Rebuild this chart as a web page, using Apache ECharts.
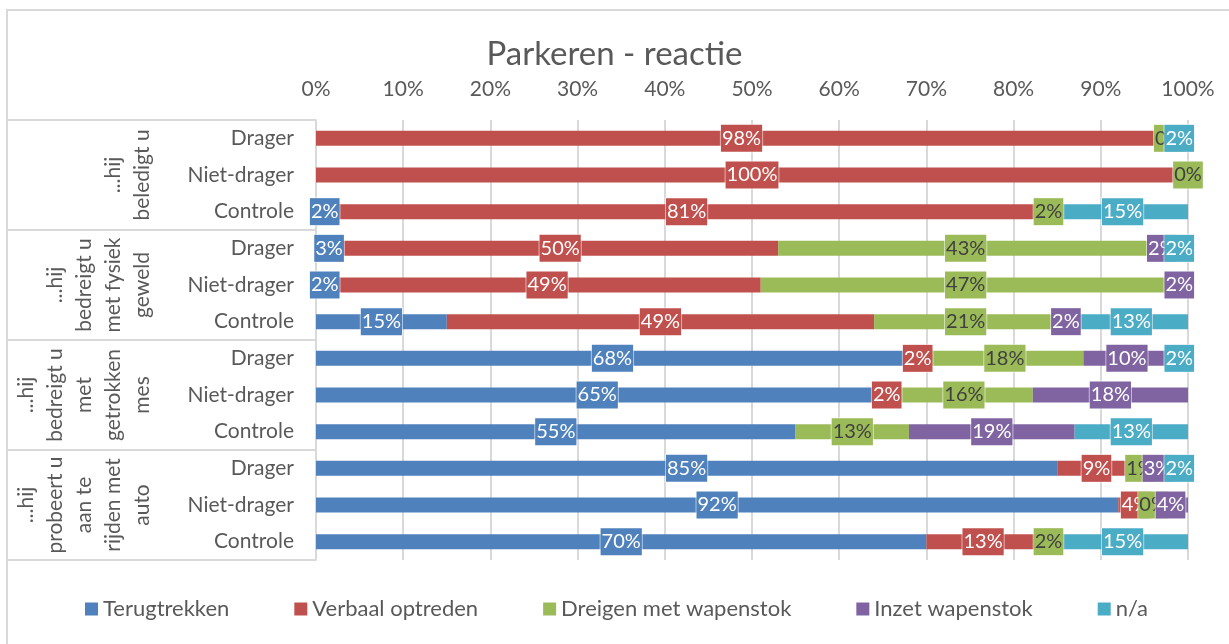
<!DOCTYPE html>
<html>
<head>
<meta charset="utf-8">
<script src="https://cdn.jsdelivr.net/npm/echarts@6/dist/echarts.min.js"></script>
<style>html,body{margin:0;padding:0;background:#fff}#c{width:1229px;height:644px}</style>
</head>
<body>
<div id="c"></div>
<script>
const title = 'Parkeren - reactie';
const categories = ['Drager','Niet-drager','Controle','Drager','Niet-drager','Controle','Drager','Niet-drager','Controle','Drager','Niet-drager','Controle'];
const groups = ['...hij\nbeledigt u', '...hij\nbedreigt u\nmet fysiek\ngeweld', '...hij\nbedreigt u\nmet\ngetrokken\nmes', '...hij\nprobeert u\naan te\nrijden met\nauto'];
const seriesNames = ['Terugtrekken','Verbaal optreden','Dreigen met wapenstok','Inzet wapenstok','n/a'];
const terugtrekken = [null, null, 2, 3, 2, 15, 68, 64.5, 55, 85, 92, 70];
const verbaal      = [97.6, 100, 81, 50, 49, 49, 2, 1.9, null, 9, 4, 13];
const dreigen      = [0.4, 0, 2, 43, 47, 21, 18, 15.8, 13, 1, 0, 2];
const inzet        = [null, null, null, 2, 2, 2, 10, 17.8, 19, 3, 4, null];
const na           = [2, null, 15, 2, null, 13, 2, null, 13, 2, null, 15];

const colors = ['#4f81bd','#c0504d','#9bbb59','#8064a2','#4bacc6'];
const labelColors = ['#fff','#fff','#404040','#fff','#fff'];
const values = [terugtrekken, verbaal, dreigen, inzet, na];
const FONT = 'Lato';
const grayText = '#595959';
const lineGray = '#d9d9d9';

const chart = echarts.init(document.getElementById('c'), null, {renderer:'canvas'});
chart.setOption({
  animation: false,
  textStyle: {fontFamily: FONT},
  graphic: [{
    type: 'rect', shape: {x: 7, y: 10, width: 1400, height: 1000},
    style: {fill: 'none', stroke: lineGray, lineWidth: 2}, silent: true, z: -10
  }],
  title: {
    text: title, left: 'center', top: 33,
    textStyle: {fontFamily: FONT, fontSize: 33, fontWeight: 'normal', color: grayText}
  },
  legend: {
    data: seriesNames, left: 80, top: 593, itemWidth: 13, itemHeight: 13, itemGap: 65,
    icon: 'rect',
    textStyle: {fontFamily: FONT, fontSize: 22, color: grayText}
  },
  grid: {left: 316, right: 41, top: 120, bottom: 84},
  xAxis: {
    type: 'value', position: 'top', min: 0, max: 100, interval: 10,
    axisLine: {show: false}, axisTick: {show: false},
    axisLabel: {formatter: '{value}%', fontFamily: FONT, fontSize: 21, color: grayText, margin: 20},
    splitLine: {show: true, lineStyle: {color: lineGray, width: 2}}
  },
  yAxis: [{
    type: 'category', data: categories, inverse: true, position: 'left',
    axisLine: {show: true, lineStyle: {color: lineGray, width: 2}},
    axisTick: {show: false},
    axisLabel: {fontFamily: FONT, fontSize: 21, color: grayText, margin: 22}
  }, {
    type: 'category', data: groups, inverse: true, position: 'left',
    axisLine: {show: false},
    axisTick: {show: true, length: 309, interval: 0, lineStyle: {color: lineGray, width: 2}},
    axisLabel: {rotate: 90, interval: 0, fontFamily: FONT, fontSize: 21, lineHeight: 29, color: grayText, margin: 159}
  }],
  series: values.map((arr, i) => ({
    name: seriesNames[i], type: 'bar', stack: 'total', yAxisIndex: 0,
    data: arr, barWidth: 15,
    itemStyle: {color: colors[i]},
    label: {
      show: true, position: 'inside',
      formatter: p => Math.round(p.value) + '%',
      fontFamily: FONT, fontSize: 20, color: labelColors[i],
      backgroundColor: colors[i], padding: [4, 1, 3, 1],
      borderColor: 'rgba(255,255,255,0.55)', borderWidth: 1
    }
  }))
});
</script>
</body>
</html>
